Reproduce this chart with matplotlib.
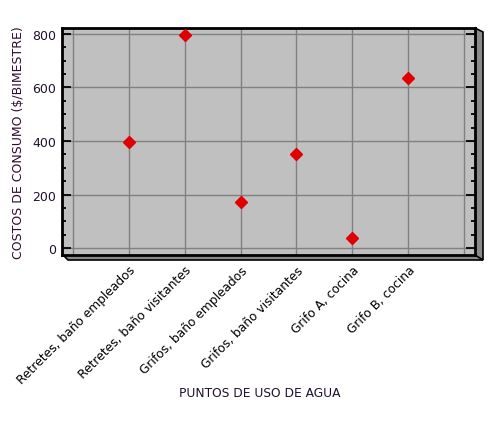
import matplotlib
matplotlib.use("Agg")
import matplotlib.pyplot as plt
from matplotlib.patches import Polygon
from matplotlib.ticker import MultipleLocator

puntos = ["Retretes, baño empleados", "Retretes, baño visitantes",
          "Grifos, baño empleados", "Grifos, baño visitantes",
          "Grifo A, cocina", "Grifo B, cocina"]
costos = [395, 795, 172, 352, 37, 636]
posiciones = [1, 2, 3, 4, 5, 6]

W, H = 500, 427
fig = plt.figure(figsize=(W / 100, H / 100), dpi=100)
ax = fig.add_axes([62 / W, 1 - 256 / H, (475 - 62) / W, (256 - 29) / H])

# 3D depth strips (right side and bottom)
def px(pts):
    return [(x / W, 1 - y / H) for x, y in pts]

fig.add_artist(Polygon(px([(475, 29), (483, 33), (483, 261), (475, 257)]),
                       closed=True, facecolor="#8a8a8a", edgecolor="black",
                       lw=1.2, transform=fig.transFigure, zorder=0))
fig.add_artist(Polygon(px([(63, 256), (475, 256), (483, 261), (68, 261)]),
                       closed=True, facecolor="#8a8a8a", edgecolor="black",
                       lw=1.2, transform=fig.transFigure, zorder=0))

ax.set_facecolor("#c0c0c0")
ax.plot(posiciones, costos, linestyle="none", marker="D", markersize=6,
        color="#e00000", markeredgecolor="#e00000", zorder=3)

ax.set_xlim(-0.2, 7.2)
ax.set_ylim(-26, 822)
ax.set_xticks(range(0, 8))
ax.set_xticklabels([""] + puntos + [""])
ax.yaxis.set_major_locator(MultipleLocator(200))
ax.yaxis.set_minor_locator(MultipleLocator(50))
ax.grid(True, color="#808080", lw=1)
ax.set_axisbelow(True)

txt = "#201030"
ax.tick_params(axis="x", length=0, pad=6, labelsize=8.8, labelcolor="black")
ax.tick_params(axis="y", which="major", direction="in", length=6.5, width=1.3,
               left=True, right=True, labelsize=9, labelcolor=txt, pad=4)
ax.tick_params(axis="y", which="minor", direction="in", length=3, width=1.3,
               left=True, right=True)
for lab in ax.get_xticklabels():
    lab.set_rotation(45)
    lab.set_rotation_mode("anchor")
    lab.set_ha("right")
    lab.set_va("top")

for s in ax.spines.values():
    s.set_linewidth(2)
    s.set_color("black")

ax.set_ylabel("COSTOS DE CONSUMO ($/BIMESTRE)", fontsize=9, color="#300a30",
              labelpad=5)
fig.text(260 / W, 1 - 394 / H, "PUNTOS DE USO DE AGUA", fontsize=8.8,
         color=txt, ha="center", va="center")

fig.savefig("out.png", dpi=100)
